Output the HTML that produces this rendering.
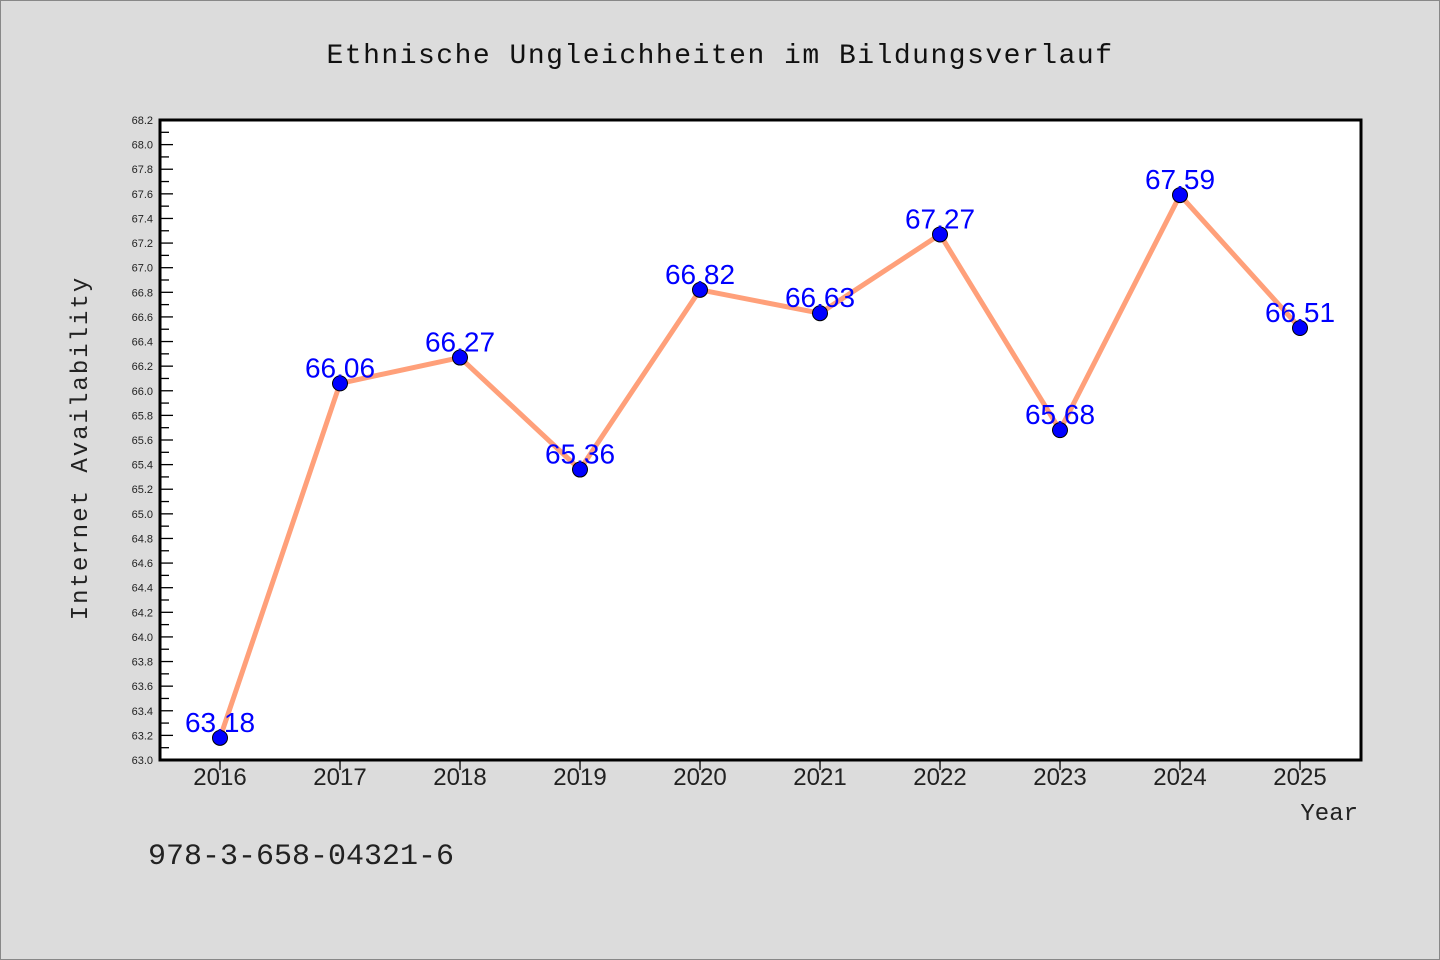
<!DOCTYPE html>
<html><head><meta charset="utf-8"><style>
body{margin:0;background:#dcdcdc;}
svg{display:block;font-family:"Liberation Sans","WenQuanYi Zen Hei",sans-serif;}
</style></head><body>
<svg width="1440" height="960">
<rect x="0.5" y="0.5" width="1439" height="959" fill="#dcdcdc" stroke="#888"/>
<text x="720" y="63" text-anchor="middle" font-size="28" fill="#111" font-family="'WenQuanYi Zen Hei','Liberation Mono',monospace" letter-spacing="1.5">Ethnische Ungleichheiten im Bildungsverlauf</text>
<rect x="160" y="120" width="1201" height="640" fill="#fff"/>
<g id="yt"></g>
<g id="xt"></g>
<rect x="160" y="120" width="1201" height="640" fill="none" stroke="#000" stroke-width="3"/>
<g id="series"></g>
<text x="87" y="448" transform="rotate(-90 87 448)" text-anchor="middle" font-size="24" fill="#222" font-family="'WenQuanYi Zen Hei','Liberation Mono',monospace" letter-spacing="2">Internet Availability</text>
<text x="1358" y="820" text-anchor="end" font-size="24" fill="#222" font-family="'WenQuanYi Zen Hei','Liberation Mono',monospace">Year</text>
<text x="148" y="864" font-size="30" fill="#222" font-family="'WenQuanYi Zen Hei','Liberation Mono',monospace">978-3-658-04321-6</text>
</svg>
<script>
const years=[2016,2017,2018,2019,2020,2021,2022,2023,2024,2025];
const values=[63.18,66.06,66.27,65.36,66.82,66.63,67.27,65.68,67.59,66.51];
const yMin=63.0,yMax=68.2;
const NS="http://www.w3.org/2000/svg";
const X=i=>220+i*120;
const Y=v=>760-(v-yMin)/(yMax-yMin)*640;
function mk(t,a,p){const e=document.createElementNS(NS,t);for(const k in a)e.setAttribute(k,a[k]);p.appendChild(e);return e;}
const yt=document.getElementById('yt');
for(let k=0;k<=52;k++){const v=yMin+k*0.1;const y=Y(v);const major=k%2===0;
 const l=mk('line',{x1:160,x2:major?173:169,y1:y,y2:y,stroke:'#000','stroke-width':1.3},yt);
 
 
 if(major){const t=mk('text',{x:153,y:y+4,'text-anchor':'end','font-size':11,fill:'#222'},yt);t.textContent=v.toFixed(1);
 
 }}
const xt=document.getElementById('xt');
years.forEach((yr,i)=>{const x=X(i);
 const l=mk('line',{x1:x,x2:x,y1:761,y2:770,stroke:'#000','stroke-width':1.3},xt);
 
 
 const t=mk('text',{x:x,y:785,'text-anchor':'middle','font-size':24,fill:'#222'},xt);t.textContent=yr;
 
 });
const s=document.getElementById('series');
const pl=mk('polyline',{points:values.map((v,i)=>X(i)+','+Y(v)).join(' '),fill:'none',stroke:'#ffa07a','stroke-width':5,'stroke-linejoin':'round'},s);


values.forEach((v,i)=>{
 const c=mk('circle',{cx:X(i),cy:Y(v),r:7.5,fill:'#0000ff',stroke:'#000','stroke-width':1},s);
 
 
 const t=mk('text',{x:X(i),y:Y(v)-6,'text-anchor':'middle','font-size':28,fill:'#0000ff'},s);t.textContent=v.toFixed(2);
 
 });
</script>
</body></html>
